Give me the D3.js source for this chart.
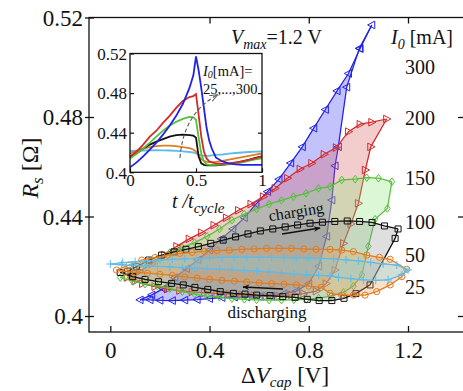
<!DOCTYPE html>
<html><head><meta charset="utf-8">
<script src="https://cdn.jsdelivr.net/npm/d3@7"></script>
<style>
body{margin:0;background:#fff}
svg{display:block}
text{font-family:"Liberation Serif","Times New Roman","DejaVu Serif",serif;fill:#111}
</style>
</head><body>
<svg id="c" width="463" height="391"></svg>
<script>
// ---------------- DATA ----------------
const currents = ["300","200","150","100","50","25"];
const xTicks = [0,0.4,0.8,1.2];
const yTicks = [0.4,0.44,0.48,0.52];
const insetXTicks = [0,0.5,1];
const insetYTicks = [0.4,0.44,0.48,0.52];

// main loops: [ΔVcap, Rs]
const charge300 = [[0.12,0.4065],[0.167,0.4085],[0.213,0.411],[0.26,0.4155],[0.307,0.419],[0.353,0.4225],[0.40,0.4265],[0.447,0.431],[0.494,0.435],[0.54,0.4395],[0.587,0.445],[0.634,0.450],[0.68,0.455],[0.727,0.4615],[0.774,0.468],[0.82,0.4755],[0.867,0.483],[0.914,0.4905],[0.96,0.4975],[1.007,0.5075],[1.054,0.517]];
const discharge300 = [[1.054,0.517],[1.004,0.5076],[0.953,0.492],[0.919,0.468],[0.906,0.4604],[0.893,0.4466],[0.872,0.432],[0.84,0.42],[0.80,0.413],[0.75,0.410],[0.70,0.409],[0.65,0.408],[0.60,0.4078],[0.55,0.4076],[0.50,0.4076],[0.45,0.4074],[0.40,0.407],[0.35,0.4066],[0.30,0.4064],[0.25,0.4062],[0.20,0.4063],[0.16,0.4065],[0.12,0.4065]];
const charge200 = [[0.068,0.4155],[0.118,0.418],[0.168,0.421],[0.218,0.4245],[0.268,0.428],[0.318,0.431],[0.368,0.4335],[0.418,0.4365],[0.468,0.4395],[0.517,0.4425],[0.567,0.445],[0.617,0.448],[0.664,0.4513],[0.714,0.4554],[0.765,0.4591],[0.812,0.4614],[0.862,0.465],[0.911,0.4677],[0.96,0.4741],[1.007,0.4771],[1.054,0.4779],[1.114,0.4792]];
const discharge200 = [[1.114,0.4792],[1.05,0.468],[1.028,0.4587],[1.0,0.4453],[0.97,0.437],[0.94,0.4292],[0.906,0.4185],[0.87,0.413],[0.83,0.410],[0.78,0.409],[0.73,0.4085],[0.68,0.408],[0.63,0.408],[0.58,0.4082],[0.53,0.4085],[0.48,0.4088],[0.43,0.409],[0.38,0.4093],[0.33,0.4097],[0.28,0.4102],[0.23,0.4108],[0.18,0.4118],[0.13,0.413],[0.10,0.414],[0.068,0.4155]];
const charge150 = [[0.04,0.4155],[0.09,0.418],[0.14,0.4205],[0.19,0.423],[0.24,0.4255],[0.29,0.4275],[0.34,0.4295],[0.39,0.432],[0.44,0.435],[0.49,0.4385],[0.54,0.441],[0.59,0.443],[0.64,0.445],[0.69,0.4465],[0.738,0.448],[0.789,0.4493],[0.839,0.4513],[0.886,0.452],[0.933,0.4547],[0.987,0.455],[1.034,0.4556],[1.081,0.4554],[1.135,0.454]];
const discharge150 = [[1.135,0.454],[1.117,0.4432],[1.067,0.4389],[1.04,0.428],[1.014,0.4165],[0.98,0.412],[0.94,0.4095],[0.89,0.408],[0.84,0.4072],[0.79,0.4067],[0.74,0.4065],[0.69,0.4064],[0.64,0.4064],[0.59,0.4065],[0.54,0.4067],[0.49,0.407],[0.44,0.4075],[0.39,0.408],[0.34,0.4088],[0.29,0.4098],[0.24,0.411],[0.19,0.412],[0.14,0.4128],[0.09,0.414],[0.04,0.4155]];
const charge100 = [[0.04,0.4175],[0.07,0.418],[0.105,0.4198],[0.155,0.4225],[0.207,0.4245],[0.257,0.4258],[0.305,0.4268],[0.355,0.4279],[0.405,0.4292],[0.455,0.4305],[0.505,0.4318],[0.555,0.433],[0.605,0.4342],[0.655,0.435],[0.705,0.4358],[0.755,0.4366],[0.805,0.4373],[0.855,0.4377],[0.905,0.438],[0.955,0.4382],[1.005,0.438],[1.055,0.4376],[1.105,0.4362],[1.16,0.435]];
const discharge100 = [[1.16,0.435],[1.148,0.4312],[1.047,0.4125],[0.99,0.409],[0.942,0.4071],[0.893,0.4062],[0.842,0.4062],[0.794,0.4067],[0.745,0.4075],[0.695,0.4078],[0.644,0.4082],[0.59,0.4084],[0.543,0.4088],[0.496,0.4091],[0.443,0.4098],[0.393,0.4107],[0.341,0.4115],[0.294,0.4125],[0.247,0.4131],[0.194,0.4138],[0.14,0.4147],[0.09,0.4158],[0.04,0.4175]];
const charge50 = [[0.025,0.4185],[0.075,0.4205],[0.127,0.4225],[0.18,0.4235],[0.23,0.4245],[0.28,0.4252],[0.33,0.4256],[0.38,0.426],[0.43,0.4263],[0.48,0.4265],[0.53,0.4268],[0.58,0.427],[0.63,0.4272],[0.68,0.4272],[0.73,0.4272],[0.78,0.427],[0.83,0.4268],[0.886,0.4268],[0.933,0.4265],[0.98,0.4259],[1.034,0.4245],[1.085,0.4236],[1.128,0.4228],[1.195,0.4188]];
const discharge50 = [[1.195,0.4188],[1.175,0.4158],[1.128,0.4125],[1.074,0.4098],[1.027,0.4084],[0.98,0.4084],[0.933,0.4084],[0.886,0.4091],[0.85,0.4115],[0.80,0.412],[0.75,0.4125],[0.70,0.4128],[0.65,0.413],[0.60,0.4133],[0.55,0.4137],[0.50,0.414],[0.45,0.4143],[0.40,0.4147],[0.35,0.4152],[0.30,0.4157],[0.25,0.4163],[0.20,0.4168],[0.15,0.4172],[0.10,0.4175],[0.06,0.4178],[0.025,0.4185]];
const charge25 = [[0.0,0.4209],[0.05,0.4215],[0.1,0.4219],[0.15,0.4222],[0.2,0.4225],[0.25,0.4228],[0.3,0.423],[0.35,0.4232],[0.4,0.4234],[0.45,0.4236],[0.5,0.4237],[0.55,0.4237],[0.6,0.4236],[0.65,0.4236],[0.7,0.4235],[0.75,0.4234],[0.8,0.4233],[0.85,0.4232],[0.9,0.423],[0.95,0.4226],[1.0,0.4222],[1.05,0.4216],[1.1,0.421],[1.155,0.4205],[1.2,0.4185]];
const discharge25 = [[1.2,0.4185],[1.175,0.4165],[1.12,0.4145],[1.07,0.4143],[1.02,0.4145],[0.97,0.415],[0.92,0.4155],[0.886,0.4161],[0.84,0.4163],[0.79,0.4166],[0.74,0.4169],[0.69,0.4173],[0.64,0.4177],[0.59,0.418],[0.54,0.4183],[0.49,0.4186],[0.44,0.4188],[0.39,0.419],[0.34,0.4192],[0.29,0.4194],[0.24,0.4197],[0.19,0.4199],[0.14,0.4201],[0.09,0.4203],[0.045,0.4206],[0.0,0.4209]];

// inset: R_s vs t/t_cycle
const tGrid = [0,0.05,0.1,0.15,0.2,0.25,0.3,0.35,0.4,0.45,0.48,0.5,0.52,0.54,0.56,0.58,0.6,0.62,0.65,0.7,0.75,0.8,0.85,0.9,0.95,1.0];
const inset300 = [0.405,0.41,0.416,0.423,0.43,0.438,0.447,0.457,0.469,0.485,0.498,0.517,0.503,0.485,0.465,0.445,0.432,0.424,0.415,0.411,0.409,0.408,0.4075,0.4075,0.4075,0.4075];
const inset200 = [0.416,0.421,0.428,0.436,0.442,0.45,0.457,0.465,0.472,0.476,0.477,0.479,0.458,0.436,0.421,0.414,0.411,0.41,0.409,0.4085,0.409,0.41,0.411,0.4125,0.414,0.416];
const inset150 = [0.414,0.419,0.424,0.43,0.436,0.442,0.447,0.451,0.454,0.456,0.4555,0.453,0.435,0.419,0.411,0.408,0.4075,0.4075,0.4075,0.4078,0.408,0.409,0.41,0.4115,0.413,0.414];
const inset100 = [0.415,0.419,0.424,0.428,0.431,0.4335,0.436,0.4375,0.438,0.4375,0.437,0.435,0.416,0.409,0.4075,0.407,0.407,0.407,0.407,0.4075,0.4085,0.4095,0.411,0.4125,0.4145,0.416];
const inset50 = [0.419,0.422,0.424,0.4255,0.4265,0.427,0.427,0.4265,0.4255,0.4245,0.423,0.421,0.417,0.4135,0.4115,0.4105,0.4103,0.4103,0.4105,0.4115,0.4128,0.414,0.4153,0.4165,0.4178,0.419];
const inset25 = [0.4215,0.4218,0.422,0.4222,0.4224,0.4222,0.422,0.4217,0.4212,0.4205,0.42,0.419,0.4178,0.417,0.4165,0.4165,0.4167,0.417,0.4175,0.418,0.4188,0.4195,0.42,0.4205,0.4208,0.421];

// ---------------- STYLE / BUILD ----------------
const styles = {
  "300":{color:"#2222e6", fill:"rgba(95,95,250,0.38)", marker:"triL"},
  "200":{color:"#d42a2a", fill:"rgba(215,90,90,0.30)", marker:"triR"},
  "150":{color:"#55c03a", fill:"rgba(140,230,120,0.30)", marker:"diamond"},
  "100":{color:"#111111", fill:"rgba(140,140,140,0.28)", marker:"square"},
  "50": {color:"#e07c22", fill:"rgba(240,160,80,0.30)", marker:"circle"},
  "25": {color:"#5cbcec", fill:"rgba(120,210,240,0.30)", marker:"plus"}
};
const loops = {
  "300":[charge300,discharge300], "200":[charge200,discharge200], "150":[charge150,discharge150],
  "100":[charge100,discharge100], "50":[charge50,discharge50], "25":[charge25,discharge25]
};
const insetData = {"300":inset300,"200":inset200,"150":inset150,"100":inset100,"50":inset50,"25":inset25};
const markerPath = {
  triL:"M-4.2,0L3,-3.8L3,3.8Z",
  triR:"M4.2,0L-3,-3.8L-3,3.8Z",
  diamond:"M0,-3.8L2.8,0L0,3.8L-2.8,0Z",
  square:"M-3,-3H3V3H-3Z",
  circle:"M3.1,0A3.1,3.1 0 1 1 -3.1,0A3.1,3.1 0 1 1 3.1,0Z",
  plus:"M-4,0H4M0,-4V4"
};

const svg = d3.select("#c");
const F = {l:89, t:17.5, r:464, b:332};
const x = d3.scaleLinear().domain([0,1.2]).range([110.3,408]);
const y = d3.scaleLinear().domain([0.4,0.52]).range([316,17.5]);
const SERIF = "Liberation Serif, Times New Roman, serif";

const g = svg.append("g");
const line = d3.line().x(d=>x(d[0])).y(d=>y(d[1]));

currents.forEach(k=>{
  const st = styles[k], [c,d] = loops[k];
  const poly = c.concat(d.slice(1));
  g.append("path").attr("d", line(poly)+"Z").attr("fill", st.fill).attr("stroke","none");
  [c,d].forEach(br=>{
    g.append("path").attr("d", line(br)).attr("fill","none").attr("stroke",st.color).attr("stroke-width",1.25);
  });
  const pts = c.concat(d.slice(1,-1));
  g.selectAll(null).data(pts).enter().append("path")
    .attr("transform", p=>`translate(${x(p[0])},${y(p[1])})`)
    .attr("d", markerPath[st.marker]).attr("fill","none")
    .attr("stroke", st.color).attr("stroke-width",1);
});

// frame
svg.append("rect").attr("x",F.l).attr("y",F.t).attr("width",F.r-F.l).attr("height",F.b-F.t)
  .attr("fill","none").attr("stroke","#111").attr("stroke-width",1.3);

// axes
const fmt = d=> d===0?"0":String(+d.toFixed(2));
const ax = svg.append("g").attr("transform",`translate(0,${F.b})`)
  .call(d3.axisBottom(x).tickValues(xTicks).tickSize(-6).tickFormat(fmt));
const axT = svg.append("g").attr("transform",`translate(0,${F.t})`)
  .call(d3.axisTop(x).tickValues(xTicks.slice(1)).tickSize(-6).tickFormat(""));
const ay = svg.append("g").attr("transform",`translate(${F.l},0)`)
  .call(d3.axisLeft(y).tickValues(yTicks).tickSize(4).tickFormat(fmt));
const ayR = svg.append("g").attr("transform",`translate(458,0)`)
  .call(d3.axisRight(y).tickValues(yTicks.slice(0,3)).tickSize(6).tickFormat(""));
[ax,axT,ay,ayR].forEach(a=>{a.attr("font-family",SERIF); a.select(".domain").remove(); a.selectAll("line").attr("stroke","#111").attr("stroke-width",1.3);});
ay.selectAll(".tick line").attr("x1",5);
ax.selectAll("text").attr("font-size",23).attr("fill","#111").attr("dy","0.35em").attr("y",18);
ay.selectAll("text").attr("font-size",23).attr("fill","#111").attr("x",-6).attr("dy","0.34em");

// axis titles
const xt = svg.append("text").attr("x",285).attr("y",383).attr("text-anchor","middle").attr("font-size",23);
xt.append("tspan").text("Δ");
xt.append("tspan").attr("font-style","italic").text("V");
xt.append("tspan").attr("font-style","italic").attr("font-size",15).attr("dy",4).text("cap");
xt.append("tspan").attr("dy",-4).text(" [V]");
const yt = svg.append("text").attr("transform","translate(38,168) rotate(-90)").attr("text-anchor","middle").attr("font-size",24);
yt.append("tspan").attr("font-style","italic").text("R");
yt.append("tspan").attr("font-style","italic").attr("font-size",17).attr("dy",5).text("s");
yt.append("tspan").attr("dy",-5).text(" [Ω]");

// Vmax and I0 labels
const vm = svg.append("text").attr("x",231).attr("y",44).attr("font-size",20);
vm.append("tspan").attr("font-style","italic").text("V");
vm.append("tspan").attr("font-style","italic").attr("font-size",14).attr("dy",5).text("max");
vm.append("tspan").attr("dy",-5).text("=1.2 V");
const i0 = svg.append("text").attr("x",391).attr("y",44).attr("font-size",20);
i0.append("tspan").attr("font-style","italic").text("I");
i0.append("tspan").attr("font-style","italic").attr("font-size",14).attr("dy",5).text("0");
i0.append("tspan").attr("dy",-5).text(" [mA]");
const labelY = {"300":74,"200":125,"150":185,"100":229,"50":262,"25":294};
currents.forEach(k=>{
  svg.append("text").attr("x",405).attr("y",labelY[k]).attr("font-size",20).text(k);
});

// charging / discharging
svg.append("defs").html(`
<marker id="ah" viewBox="0 0 10 10" refX="9" refY="5" markerWidth="9" markerHeight="7" orient="auto" markerUnits="userSpaceOnUse"><path d="M0,1L10,5L0,9L3,5Z" fill="#111"/></marker>
<marker id="ah2" viewBox="0 0 10 10" refX="9" refY="5" markerWidth="8" markerHeight="8" orient="auto" markerUnits="userSpaceOnUse"><path d="M0,1L10,5L0,9" fill="none" stroke="#555" stroke-width="1.2"/></marker>`);
svg.append("text").attr("transform","translate(297,217) rotate(-9)").attr("text-anchor","middle").attr("font-size",16).text("charging");
svg.append("line").attr("x1",282).attr("y1",234).attr("x2",320).attr("y2",228).attr("stroke","#111").attr("stroke-width",1.5).attr("marker-end","url(#ah)");
svg.append("text").attr("x",267).attr("y",318).attr("text-anchor","middle").attr("font-size",17).text("discharging");
svg.append("line").attr("x1",283).attr("y1",289).attr("x2",243).attr("y2",287).attr("stroke","#111").attr("stroke-width",1.5).attr("marker-end","url(#ah)");

// ---------------- INSET ----------------
const I = {l:130, r:262, t:53.5, b:172.3};
const ix = d3.scaleLinear().domain([0,1]).range([I.l,I.r]);
const iy = d3.scaleLinear().domain([0.4,0.52]).range([I.b,I.t]);
svg.append("rect").attr("x",I.l).attr("y",I.t).attr("width",I.r-I.l).attr("height",I.b-I.t).attr("fill","#fff");
const ig = svg.append("g");
const iline = d3.line().x((d,i)=>ix(tGrid[i])).y(d=>iy(d));
currents.slice().reverse().forEach(k=>{
  ig.append("path").attr("d", iline(insetData[k])).attr("fill","none").attr("stroke",styles[k].color).attr("stroke-width",1.8);
});
svg.append("rect").attr("x",I.l).attr("y",I.t).attr("width",I.r-I.l).attr("height",I.b-I.t).attr("fill","none").attr("stroke","#111").attr("stroke-width",1.3);
const iax = svg.append("g").attr("transform",`translate(0,${I.b})`)
  .call(d3.axisBottom(ix).tickValues(insetXTicks).tickSize(-4).tickFormat(fmt));
const iay = svg.append("g").attr("transform",`translate(${I.l},0)`)
  .call(d3.axisLeft(iy).tickValues(insetYTicks).tickSize(-4).tickFormat(fmt));
const iayR = svg.append("g").attr("transform",`translate(${I.r},0)`)
  .call(d3.axisRight(iy).tickValues([0.44,0.48]).tickSize(-4).tickFormat(""));
[iax,iay,iayR].forEach(a=>{a.attr("font-family",SERIF); a.select(".domain").remove(); a.selectAll("line").attr("stroke","#111").attr("stroke-width",1.2);});
iax.selectAll("text").attr("font-size",17).attr("fill","#111").attr("y",2).attr("dy","0.71em");
iay.selectAll("text").attr("font-size",17).attr("fill","#111").attr("x",-3).attr("dy","0.34em");

const tl = svg.append("text").attr("x",172).attr("y",208).attr("font-size",20).attr("font-style","italic");
tl.append("tspan").text("t /t");
tl.append("tspan").attr("font-size",15).attr("dy",5).text("cycle");
const a1 = svg.append("text").attr("x",203).attr("y",76).attr("font-size",14.5);
a1.append("tspan").attr("font-style","italic").text("I");
a1.append("tspan").attr("font-style","italic").attr("font-size",10).attr("dy",2).text("0");
a1.append("tspan").attr("dy",-2).text("[mA]=");
svg.append("text").attr("x",203).attr("y",94).attr("font-size",14.5).text("25,...,300");
svg.append("path").attr("d","M180,158 Q183,114 217,95").attr("fill","none").attr("stroke","#555")
  .attr("stroke-width",1.1).attr("stroke-dasharray","4,2.5").attr("marker-end","url(#ah2)");
</script>
</body></html>
